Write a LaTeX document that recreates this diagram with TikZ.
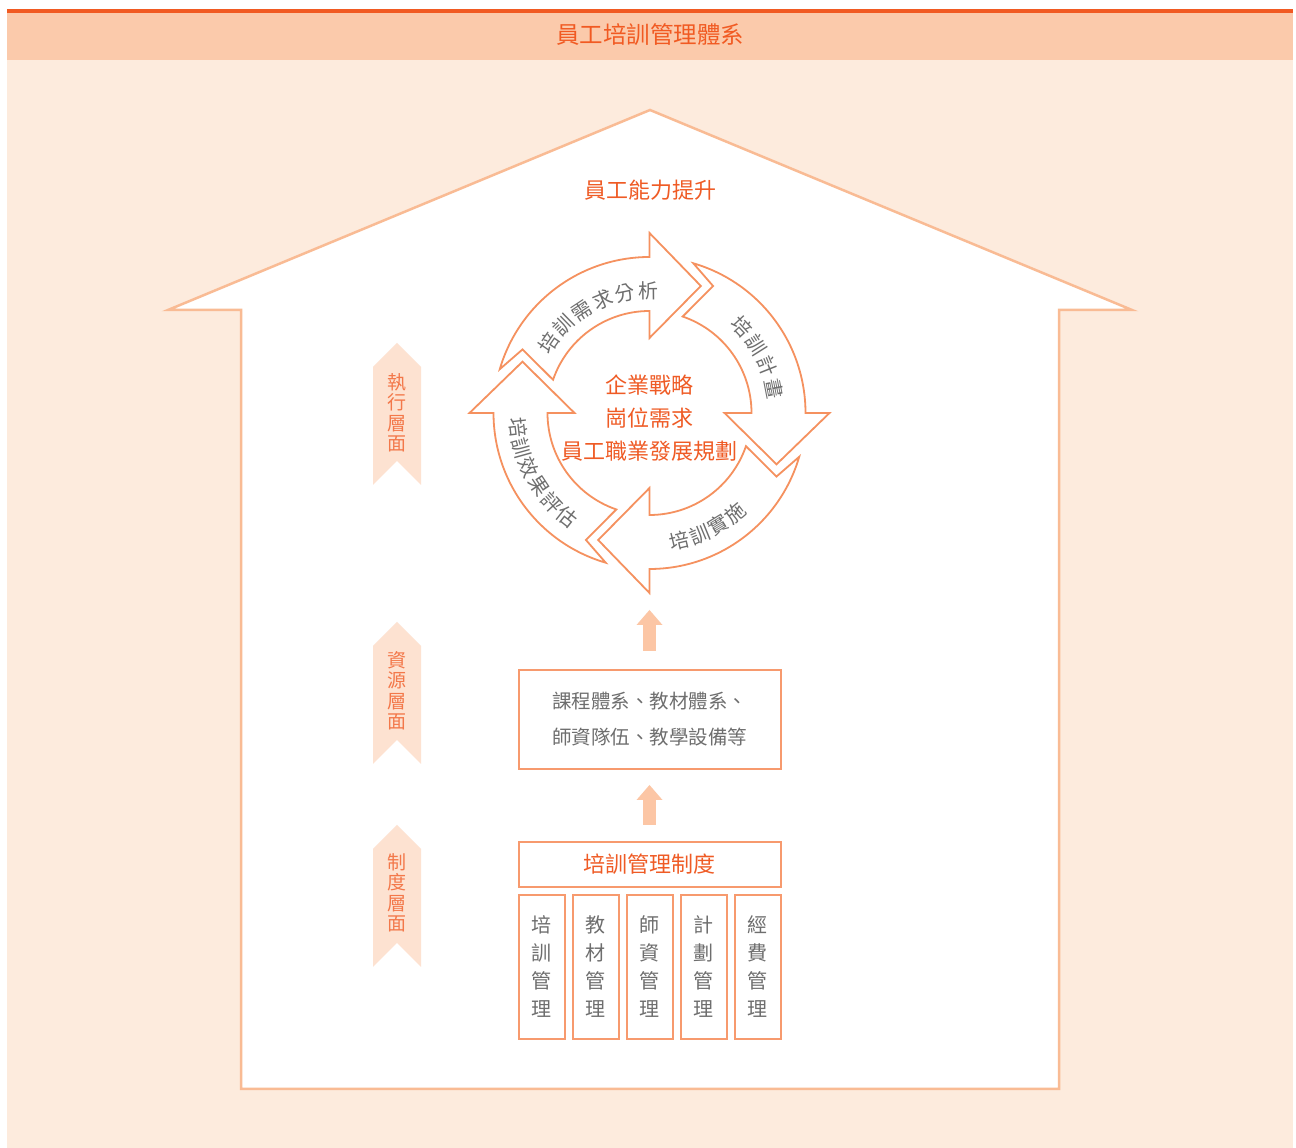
\documentclass[tikz,border=0pt]{standalone}
\usepackage{fontspec}
\setmainfont{Noto Sans CJK TC}
\usetikzlibrary{positioning,arrows.meta,decorations.text}

\definecolor{hdrline}{HTML}{F15A22}
\definecolor{hdrband}{HTML}{FBCAAB}
\definecolor{bgpeach}{HTML}{FDEBDD}
\definecolor{houseline}{HTML}{F9BB94}
\definecolor{ribbonfill}{HTML}{FDE2D1}
\definecolor{arrowline}{HTML}{F5915F}
\definecolor{boxline}{HTML}{F79A6E}
\definecolor{upfill}{HTML}{FCC6A5}
\definecolor{redtext}{HTML}{EF5B25}
\definecolor{ribtext}{HTML}{F3784A}
\definecolor{graytext}{HTML}{6E6E6E}

\newcommand{\arcfont}{\fontsize{20}{20}\selectfont}
\newcommand{\cyclearrow}[1]{%
  \draw[cyclearrow] ({#1+73.7}:156pt) arc[start angle={#1+73.7}, end angle={#1}, radius=156pt]
    -- (#1:180pt) -- ({#1-22}:137pt) -- (#1:75pt) -- (#1:102pt)
    arc[start angle={#1}, end angle={#1+71}, radius=102pt]
    -- ({#1+63.4}:142pt) -- cycle;}
\newcommand{\ribbon}[1]{%
  \fill[ribbonfill] (373,#1-24) -- (397,#1) -- (421,#1-24) -- (421,#1-142)
    -- (397,#1-118) -- (373,#1-142) -- cycle;}

\tikzset{
  cyclearrow/.style={draw=arrowline, fill=white, line width=1.8pt},
  arclabel/.style={decorate, decoration={text effects along path, text={#1},
    text align=center, text effects/.cd, text along path,
    characters={text=graytext, font=\arcfont, inner sep=0pt},
    character widths={font=\arcfont, inner xsep=1pt, inner ysep=0pt}}},
  ribbonlabel/.style={text=ribtext, font=\fontsize{19}{20.5}\selectfont, align=center, inner sep=0pt},
  itembox/.style={draw=boxline, line width=2pt, fill=white, minimum width=46pt,
    minimum height=144pt, inner sep=0pt, outer sep=0pt, align=center, text=graytext,
    font=\fontsize{20}{28}\selectfont},
  widebox/.style={draw=boxline, line width=2pt, fill=white, minimum width=262pt,
    inner sep=0pt, outer sep=0pt, align=center},
  uparrow/.style={draw=upfill, line width=13pt,
    -{Triangle[width=26pt 0 0, length=15pt 0 0, line width=0pt]}}
}

\begin{document}
\begin{tikzpicture}[x=1pt,y=1pt]
\useasboundingbox (0,0) rectangle (1296,1148);
\fill[bgpeach] (7,0) rectangle (1293,1088);
\fill[hdrband] (7,1088) rectangle (1293,1135);
\fill[hdrline] (7,1135) rectangle (1293,1139);
\node[text=hdrline, font=\fontsize{23.5}{23.5}\selectfont] (hdr) at (650,1113) {員工培訓管理體系};

\draw[houseline, line width=2.5pt, fill=white] (241,59) -- (241,838) -- (168,838) -- (650,1038)
  -- (1132,838) -- (1059,838) -- (1059,59) -- cycle;
\node[text=redtext, font=\fontsize{22}{22}\selectfont] (goal) at (650,958) {員工能力提升};

\ribbon{805}
\ribbon{526}
\ribbon{323}
\node[ribbonlabel] (lay1) at (397,735) {執\\行\\層\\面};
\node[ribbonlabel] (lay2) at (397,457) {資\\源\\層\\面};
\node[ribbonlabel] (lay3) at (397,255) {制\\度\\層\\面};

\begin{scope}[shift={(649.5,735)}]
\cyclearrow{90}
\cyclearrow{0}
\cyclearrow{-90}
\cyclearrow{180}
\path[arclabel={培訓需求分析}] (163:115pt) arc[start angle=163, end angle=73, radius=115pt];
\path[arclabel={培訓計畫}] (72:119pt) arc[start angle=72, end angle=-18, radius=119pt];
\path[arclabel={培訓實施}] (-108:139pt) arc[start angle=-108, end angle=-18, radius=139pt];
\path[arclabel={培訓效果評估}] (164:140pt) arc[start angle=164, end angle=254, radius=140pt];
\node[text=redtext, font=\fontsize{22}{33}\selectfont, align=center] (core) at (0,-5)
  {企業戰略\\崗位需求\\員工職業發展規劃};
\coordinate (cycbot) at (0.5,-180);
\end{scope}

\node[itembox] (i1) at (541.5,181) {培\\訓\\管\\理};
\node[itembox, right=8pt of i1] (i2) {教\\材\\管\\理};
\node[itembox, right=8pt of i2] (i3) {師\\資\\管\\理};
\node[itembox, right=8pt of i3] (i4) {計\\劃\\管\\理};
\node[itembox, right=8pt of i4] (i5) {經\\費\\管\\理};
\node[widebox, minimum height=45pt, text=redtext, font=\fontsize{22}{22}\selectfont,
  above=8pt of i3] (mgmt) {培訓管理制度};
\node[widebox, minimum height=99pt, text=graytext, font=\fontsize{19.5}{36}\selectfont,
  above=73pt of mgmt] (res) {課程體系、教材體系、\\師資隊伍、教學設備等};

\draw[uparrow, shorten <=19pt, shorten >=17pt] (res.north) -- (res.north |- cycbot);
\draw[uparrow, shorten <=17pt, shorten >=16pt] (mgmt.north) -- (res.south);
\end{tikzpicture}
\end{document}
